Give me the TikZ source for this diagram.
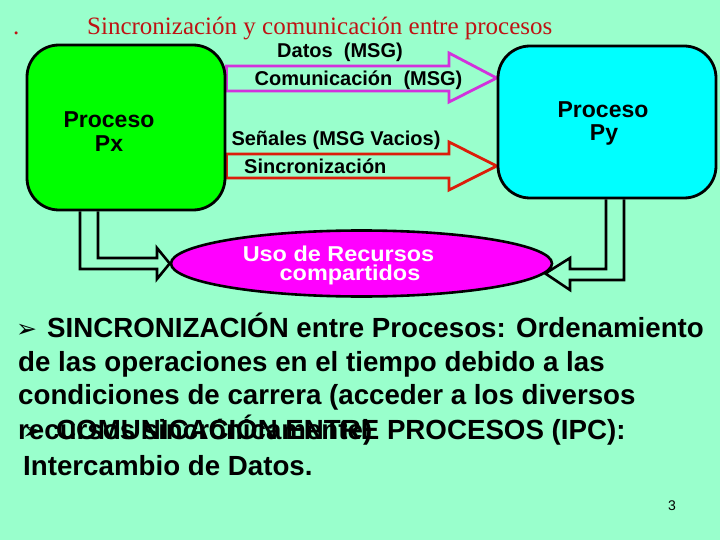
\documentclass[tikz,border=0pt]{standalone}
\usepackage{fontspec}
\setmainfont{Liberation Sans}
\newfontfamily\serifface{Liberation Serif}
\newfontfamily\dingface{DejaVu Sans}
\usetikzlibrary{shapes.geometric,calc}
\definecolor{bgmint}{RGB}{153,255,204}
\definecolor{boxgreen}{RGB}{0,255,0}
\definecolor{boxcyan}{RGB}{0,255,255}
\definecolor{ellmag}{RGB}{255,0,255}
\definecolor{arrmag}{RGB}{210,50,220}
\definecolor{arrred}{RGB}{220,30,10}
\definecolor{titlered}{RGB}{190,20,20}
\pgfdeclarelayer{back}
\pgfsetlayers{back,main}
\begin{document}
\begin{tikzpicture}[x=1pt,y=-1pt,
  procbox/.style={draw=black,line width=2.8pt,rounded corners=32pt,inner sep=0pt},
  blockarrow/.style={line width=2.8pt,line join=miter},
  dblarrow/.style={draw=black,line width=2.6pt,line join=miter},
  lbl/.style={anchor=base,inner sep=0pt,font=\bfseries\fontsize{20}{24}\selectfont},
  proctext/.style={anchor=base,inner sep=0pt,font=\bfseries\fontsize{23}{24}\selectfont},
  elltext/.style={anchor=base,inner sep=0pt,text=white,font=\bfseries\fontsize{21.5}{22}\selectfont},
  body/.style={anchor=base west,inner sep=0pt,font=\bfseries\fontsize{27.7}{33}\selectfont},
  bul/.style={anchor=base west,inner sep=0pt,font=\dingface\fontsize{25}{25}\selectfont}
]
\begin{pgfonlayer}{back}
\fill[bgmint] (0,0) rectangle (720,540);
\end{pgfonlayer}
\useasboundingbox (0,0) rectangle (720,540);

% title
\node[anchor=base west,inner sep=0pt,text=titlered,font=\serifface\fontsize{25}{30}\selectfont] (dot) at (13,35) {.};
\node[anchor=base west,inner sep=0pt,text=titlered,font=\serifface\fontsize{25}{30}\selectfont] (title) at (87,35) {Sincronización y comunicación entre procesos};

% process boxes
\node[procbox,fill=boxgreen,minimum width=198pt,minimum height=165pt] (px) at (126,127.5) {};
\node[procbox,fill=boxcyan,minimum width=218pt,minimum height=152pt] (py) at (607,122) {};
\node[proctext] (pxt1) at (109,128) {Proceso};
\node[proctext] (pxt2) at (109,152) {Px};
\node[proctext] (pyt1) at (603,117.5) {Proceso};
\node[proctext] (pyt2) at (604,141) {Py};

% shared resources
\node[ellipse,draw=black,line width=2.6pt,fill=ellmag,minimum width=381pt,minimum height=66pt,inner sep=0pt] (ell) at (361.5,263.5) {};
\node[elltext] (et1) at (338.5,261) {\scalebox{1.09}[1]{Uso de Recursos}};
\node[elltext] (et2) at (350,280) {\scalebox{1.09}[1]{compartidos}};

% block arrows
\begin{pgfonlayer}{back}
\draw[blockarrow,draw=arrmag] (px.east |- 0,66) -- (449,66) -- (449,53) -- (py.west |- 0,78) -- (449,102) -- (449,91) -- (px.east |- 0,91) -- cycle;
\draw[blockarrow,draw=arrred] (px.east |- 0,154) -- (449,154) -- (449,142) -- (py.west |- 0,166) -- (449,190) -- (449,178) -- (px.east |- 0,178) -- cycle;
\draw[dblarrow] (px.south -| 80,0) -- (80,269) -- (157,269) -- (157,279) -- (ell.west) -- (157,248) -- (157,258) -- (98,258) -- (98,0 |- px.south);
\draw[dblarrow] (py.south -| 606,0) -- (606,269) -- (570,269) -- (570,258) -- ($(ell.east)+(-8,10)$) -- (570,290) -- (570,280) -- (624,280) -- (624,0 |- py.south);
\end{pgfonlayer}

% arrow labels
\node[lbl] (l_datos) at (340,58) {Datos\ \ (MSG)};
\node[lbl] (l_com) at (358.5,86) {Comunicación\ \ (MSG)};
\node[lbl] (l_sen) at (336,146) {Señales (MSG Vacios)};
\node[lbl,anchor=base west] (l_sin) at (244,174) {Sincronización};

% body text
\node[bul] (b1) at (16,337) {➢};
\node[body] (t1) at (47,337) {SINCRONIZACIÓN entre Procesos: Ordenamiento};
\node[body] (t2) at (18,371) {de las operaciones en el tiempo debido a las};
\node[body] (t3) at (18,404) {condiciones de carrera (acceder a los diversos};
\node[body] (t4) at (18,439) {recursos sincrónicamente)};
\node[bul] (b2) at (22,439) {➢};
\node[body] (m1) at (56,439) {COMUNICACIÓN ENTRE PROCESOS (IPC):};
\node[body] (m2) at (23,475) {Intercambio de Datos.};

% page number
\node[anchor=base,inner sep=0pt,font=\fontsize{14}{16}\selectfont] (pg) at (672,510) {3};
\end{tikzpicture}
\end{document}
